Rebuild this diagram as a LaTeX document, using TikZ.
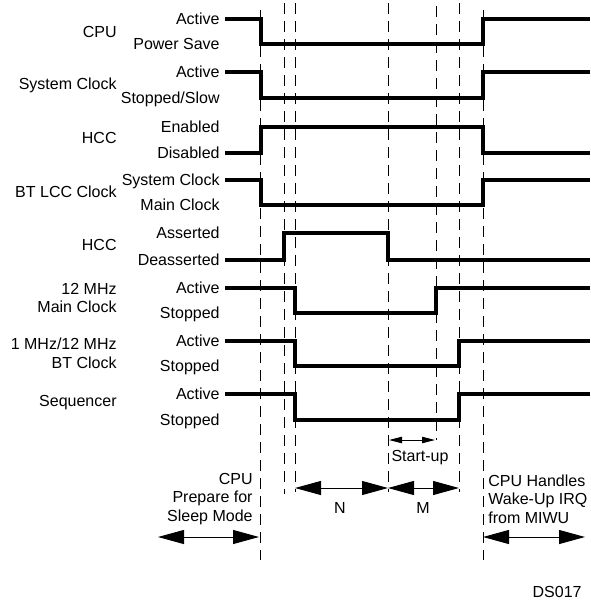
\documentclass[tikz,border=0pt]{standalone}
\usepackage{fontspec}
\setmainfont{Liberation Sans}
\usetikzlibrary{arrows.meta}

\tikzset{
  trace/.style={line width=2pt, line join=miter},
  guide/.style={line width=0.5pt, dash pattern=on 5.5pt off 3.5pt},
  lvl/.style={anchor=east, inner sep=0pt, text height=5.7pt, text depth=0pt},
  sig/.style={anchor=east, inner sep=0pt, align=right},
  span/.style={line width=0.5pt, {Triangle[length=13pt,width=7pt]}-{Triangle[length=13pt,width=7pt]}},
  smallspan/.style={line width=0.5pt, {Triangle[length=6.5pt,width=3.2pt]}-{Triangle[length=6.5pt,width=3.2pt]}},
  every node/.style={font=\fontsize{8}{9.3}\selectfont}
}

\begin{document}
\begin{tikzpicture}[x=0.5pt, y=-0.5pt]
\useasboundingbox (0,0) rectangle (590,600);

% dashed time marks: x / top / bottom
\foreach \x/\t/\b in {260/10/560, 284/3/494, 295/3/492, 388/3/492, 436/6/440, 459/3/492, 483/10/560}
  \draw[guide] (\x,\t) -- (\x,\b);

% signal names
\node[sig] (cpu)  at (117,32)  {CPU};
\node[sig] (sclk) at (117,85)  {System Clock};
\node[sig] (hcc)  at (117,138) {HCC};
\node[sig] (lcc)  at (117,192) {BT LCC Clock};
\node[sig] (hccb) at (117,245) {HCC};
\node[sig] (mclk) at (117,298) {12 MHz\\Main Clock};
\node[sig] (btc)  at (117,353) {1 MHz/12 MHz\\BT Clock};
\node[sig] (seq)  at (117,403) {Sequencer};

% level names
\node[lvl] at (220,19)  {Active};
\node[lvl] at (220,44)  {Power Save};
\node[lvl] at (220,72)  {Active};
\node[lvl] at (220,98)  {Stopped/Slow};
\node[lvl] at (220,127) {Enabled};
\node[lvl] at (220,153) {Disabled};
\node[lvl] at (220,180) {System Clock};
\node[lvl] at (220,205) {Main Clock};
\node[lvl] at (220,233) {Asserted};
\node[lvl] at (220,260) {Deasserted};
\node[lvl] at (220,288) {Active};
\node[lvl] at (220,313) {Stopped};
\node[lvl] at (220,341) {Active};
\node[lvl] at (220,366) {Stopped};
\node[lvl] at (220,394) {Active};
\node[lvl] at (220,420) {Stopped};

% waveforms
\draw[trace] (225,19) -- (261,19) -- (261,44) -- (483,44) -- (483,19) -- (590,19);
\draw[trace] (225,72) -- (261,72) -- (261,98) -- (483,98) -- (483,72) -- (590,72);
\draw[trace] (225,153) -- (261,153) -- (261,127) -- (483,127) -- (483,153) -- (590,153);
\draw[trace] (225,180) -- (261,180) -- (261,205) -- (483,205) -- (483,180) -- (590,180);
\draw[trace] (225,260) -- (284,260) -- (284,233) -- (388,233) -- (388,260) -- (590,260);
\draw[trace] (225,288) -- (295,288) -- (295,313) -- (436,313) -- (436,288) -- (590,288);
\draw[trace] (225,341) -- (295,341) -- (295,366) -- (459,366) -- (459,341) -- (590,341);
\draw[trace] (225,394) -- (295,394) -- (295,420) -- (459,420) -- (459,394) -- (590,394);

% intervals
\draw[smallspan] (389,440) -- (435,440);
\node (su) at (420,458) {Start-up};
\draw[span] (295,488) -- (388,488);
\draw[span] (388,488) -- (459,488);
\node (n) at (340,508) {N};
\node (m) at (423,508) {M};

\node[sig] (prep) at (253,499) {CPU\\Prepare for\\Sleep Mode};
\draw[span] (158,537) -- (259,537);
\node[anchor=west, inner sep=0pt, align=left] (wake) at (488,499) {CPU Handles\\Wake-Up IRQ\\from MIWU};
\draw[span] (483,537) -- (585,537);

\node[anchor=east, inner sep=0pt] (ds) at (582,592) {DS017};
\end{tikzpicture}
\end{document}
